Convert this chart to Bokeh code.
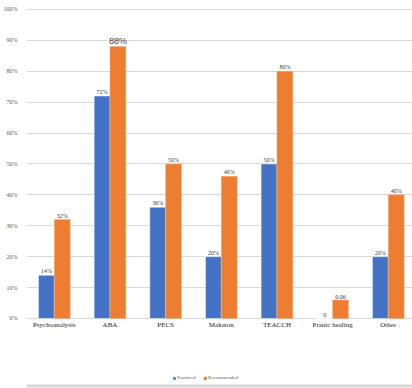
from bokeh.plotting import figure
from bokeh.models import (ColumnDataSource, Range1d, FixedTicker, NumeralTickFormatter,
                          Legend, LegendItem, CDSView, BooleanFilter, Span)
from bokeh.transform import dodge
from bokeh.core.properties import value
from bokeh.embed import file_html
from bokeh.resources import INLINE

categories = ["Psychoanalysis", "ABA", "PECS", "Makaton", "TEACCH", "Pranic healing", "Other"]
practiced = [0.14, 0.72, 0.36, 0.20, 0.50, 0.0, 0.20]
recommended = [0.32, 0.88, 0.50, 0.46, 0.80, 0.06, 0.40]
practiced_labels = ["14%", "72%", "36%", "20%", "50%", "0", "20%"]
recommended_labels = ["32%", "88%", "50%", "46%", "80%", "0.06", "40%"]
y_ticks = [0, 0.1, 0.2, 0.3, 0.4, 0.5, 0.6, 0.7, 0.8, 0.9, 1.0]

BLUE = "#4472C4"
ORANGE = "#ED7D31"
SERIF = "Liberation Serif"

src = ColumnDataSource(dict(
    x=list(range(len(categories))),
    base=[0] * len(categories),
    cat=categories,
    practiced=practiced,
    recommended=recommended,
    plab=practiced_labels,
    rlab=recommended_labels,
))

p = figure(width=412, height=388, output_backend="svg", toolbar_location=None,
           x_range=Range1d(-0.5, 6.435), y_range=Range1d(-0.2265, 1.003))
p.min_border_left = 25
p.min_border_right = 0
p.min_border_top = 8
p.min_border_bottom = 0
p.outline_line_color = None
p.background_fill_color = "white"
p.border_fill_color = "white"

bw = 0.285
r1 = p.vbar(x=dodge("x", -bw / 2), top="practiced", width=bw, source=src,
            fill_color=BLUE, line_color="white", line_width=0.5)
r2 = p.vbar(x=dodge("x", bw / 2), top="recommended", width=bw, source=src,
            fill_color=ORANGE, line_color="#F4B183", line_width=0.5)

p.text(x=dodge("x", -bw / 2), y="practiced", text="plab", source=src,
       text_font=value(SERIF), text_font_size="6px", text_color="#404040",
       text_align="center", text_baseline="bottom", y_offset=-1)

big = [lab == "88%" for lab in recommended_labels]
small = [not b for b in big]
p.text(x=dodge("x", bw / 2), y="recommended", text="rlab", source=src,
       view=CDSView(filter=BooleanFilter(small)),
       text_font=value(SERIF), text_font_size="6px", text_color="#404040",
       text_align="center", text_baseline="bottom", y_offset=-1)
p.text(x=dodge("x", bw / 2), y="recommended", text="rlab", source=src,
       view=CDSView(filter=BooleanFilter(big)),
       text_font=value("Liberation Sans"), text_font_size="9px", text_color="#404040",
       text_align="center", text_baseline="bottom", y_offset=-1)

# category labels under the 0% line
p.text(x="x", y="base", text="cat", source=src,
       text_font=value(SERIF), text_font_size="7px", text_color="#262626",
       text_align="center", text_baseline="top", y_offset=3)

p.xaxis.visible = False

p.yaxis.ticker = FixedTicker(ticks=y_ticks)
p.yaxis.formatter = NumeralTickFormatter(format="0%")
p.yaxis.major_label_text_font = SERIF
p.yaxis.major_label_text_font_size = "6px"
p.yaxis.major_label_text_color = "#595959"
p.yaxis.axis_line_color = None
p.yaxis.major_tick_line_color = None
p.yaxis.minor_tick_line_color = None
p.yaxis.major_label_standoff = 3

p.xgrid.grid_line_color = None
p.ygrid.ticker = FixedTicker(ticks=y_ticks)
p.ygrid.grid_line_color = "#D9D9D9"
p.ygrid.grid_line_width = 1

# light chart-area border at the bottom
p.add_layout(Span(location=-0.2184, dimension="width", line_color="#D9D9D9", line_width=3))

legend = Legend(items=[LegendItem(label="Practiced", renderers=[r1]),
                       LegendItem(label="Recommended", renderers=[r2])],
                orientation="horizontal", location=(146, 8))
legend.label_text_font = SERIF
legend.label_text_font_size = "5px"
legend.label_text_color = "#595959"
legend.glyph_width = 4
legend.glyph_height = 4
legend.label_standoff = 1
legend.spacing = 6
legend.padding = 0
legend.margin = 0
legend.border_line_color = None
legend.background_fill_alpha = 0
legend.label_height = 5
p.add_layout(legend, "center")

open("out.html", "w").write(file_html(p, INLINE))
